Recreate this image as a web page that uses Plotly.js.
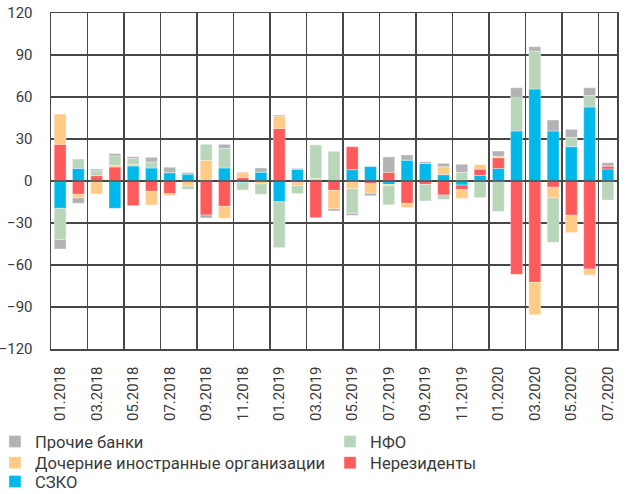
<!DOCTYPE html>
<html>
<head>
<meta charset="utf-8">
<script src="https://cdn.plot.ly/plotly-3.0.1.min.js"></script>
<style>
    html, body { margin: 0; padding: 0; background: #fff; }
    #chart { width: 635px; height: 494px; }
</style>
</head>
<body>
<div id="chart"></div>
<script>
// =============================================
// Stacked monthly flows by counterparty group
// =============================================

const months = [
    '01.2018', '02.2018', '03.2018', '04.2018', '05.2018', '06.2018',
    '07.2018', '08.2018', '09.2018', '10.2018', '11.2018', '12.2018',
    '01.2019', '02.2019', '03.2019', '04.2019', '05.2019', '06.2019',
    '07.2019', '08.2019', '09.2019', '10.2019', '11.2019', '12.2019',
    '01.2020', '02.2020', '03.2020', '04.2020', '05.2020', '06.2020',
    '07.2020'
];

// СЗКО
const szko = [
    -19.5, 9.0, 0, -19.5, 10.7, 9.3, 6.0, 5.0, 0.5, 9.3, -1.2, 6.4,
    -14.8, 8.3, 0, 0, 8.1, 10.5, -2.5, 15.0, 12.6, 4.5, -2.9, 4.0,
    9.0, 35.7, 65.7, 35.7, 24.5, 52.8, 8.6
];

// Нерезиденты
const nonResidents = [
    26.2, -9.5, 3.8, 10.0, -17.6, -7.4, -9.0, 0, -24.3, -18.1, 2.4, 0,
    37.6, -1.2, -26.2, -6.7, 16.4, -1.9, 6.2, -16.0, -2.4, -10.0, -3.3, 4.5,
    7.6, -66.7, -72.4, -4.5, -24.5, -62.9, 2.1
];

// Дочерние иностранные организации
const subsidiaries = [
    21.6, -2.6, -9.3, 1.2, 1.2, -9.8, -1.4, -3.5, 14.3, -8.6, 3.6, -2.1,
    8.8, -2.1, 1.9, -13.3, -5.5, -6.9, -1.0, -2.9, 0, 5.7, -6.2, 3.3,
    1.0, -0.5, -23.1, -7.6, -12.4, -4.3, 0
];

// НФО
const nfo = [
    -22.4, 6.7, 3.5, 6.7, 4.3, 4.3, 0, -2.5, 11.4, 14.0, -5.2, -7.4,
    -32.8, -5.7, 24.0, 21.2, -17.6, 0, -13.5, 0, -11.9, -3.1, 6.2, -11.9,
    -21.7, 24.0, 27.1, -31.7, 6.7, 8.3, -13.6
];

// Прочие банки
const otherBanks = [
    -6.7, -3.8, 1.2, 1.7, 1.2, 3.3, 3.8, 1.0, -2.1, 2.9, 0.5, 2.9,
    0.7, 0.7, 0, -1.4, -1.4, -1.7, 11.0, 3.6, 1.2, 2.4, 5.7, 0,
    3.8, 6.9, 3.1, 7.9, 5.7, 5.5, 2.4
];

const FONT = 'Roboto, "Open Sans", sans-serif';
const TEXT_COLOR = '#3a3a3a';
const GRID_COLOR = '#474747';

// stacking order from zero outward; each entry gets its own legend box
const series = [
    { name: 'СЗКО', values: szko, color: '#00B9EB', legend: 'legend5' },
    { name: 'Нерезиденты', values: nonResidents, color: '#FF5A5C', legend: 'legend4' },
    { name: 'Дочерние иностранные организации', values: subsidiaries, color: '#FFCB87', legend: 'legend3' },
    { name: 'НФО', values: nfo, color: '#B9D5BA', legend: 'legend2' },
    { name: 'Прочие банки', values: otherBanks, color: '#B3B3B5', legend: 'legend' }
];

const traces = series.map(s => ({
    type: 'bar',
    name: s.name,
    x: months,
    y: s.values,
    legend: s.legend,
    marker: { color: s.color, line: { color: 'rgba(255,255,255,0.7)', width: 0.5 } },
    hovertemplate: '%{x}<br>' + s.name + ': %{y:.1f}<extra></extra>'
}));

// legend boxes laid out as two columns under the chart
const legendBase = {
    orientation: 'v',
    xanchor: 'left',
    yanchor: 'middle',
    bgcolor: 'rgba(0,0,0,0)',
    font: { family: FONT, size: 16.6, color: TEXT_COLOR },
    itemclick: false,
    itemdoubleclick: false
};
const COL1 = -0.099, COL2 = 0.493;
const ROW1 = -0.276, ROW2 = -0.339, ROW3 = -0.395;

const layout = {
    width: 635,
    height: 494,
    margin: { l: 51, r: 18, t: 13, b: 145, autoexpand: false },
    paper_bgcolor: '#fff',
    plot_bgcolor: '#fff',
    barmode: 'relative',
    bargap: 0.35,
    font: { family: FONT, size: 15, color: TEXT_COLOR },
    showlegend: true,
    xaxis: {
        type: 'category',
        tickmode: 'linear',
        tick0: 0,
        dtick: 2,
        tickson: 'boundaries',
        tickangle: -90,
        ticks: '',
        ticklabelstandoff: 10,
        showgrid: true,
        gridcolor: GRID_COLOR,
        gridwidth: 1.5,
        showline: true,
        mirror: true,
        linecolor: GRID_COLOR,
        linewidth: 1.5,
        tickfont: { family: FONT, size: 15, color: TEXT_COLOR },
        fixedrange: true
    },
    yaxis: {
        range: [-120, 120],
        tickmode: 'linear',
        tick0: -120,
        dtick: 30,
        ticks: '',
        ticklabelstandoff: 14,
        showgrid: true,
        gridcolor: GRID_COLOR,
        gridwidth: 1.5,
        zeroline: false,
        showline: true,
        mirror: true,
        linecolor: GRID_COLOR,
        linewidth: 1.5,
        tickfont: { family: FONT, size: 15, color: TEXT_COLOR },
        fixedrange: true
    },
    // zero line sits on top of the bars
    shapes: [{
        type: 'line',
        xref: 'paper', x0: 0, x1: 1,
        yref: 'y', y0: 0, y1: 0,
        line: { color: GRID_COLOR, width: 1.5 },
        layer: 'above'
    }],
    legend:  Object.assign({}, legendBase, { x: COL1, y: ROW1 }),
    legend2: Object.assign({}, legendBase, { x: COL2, y: ROW1 }),
    legend3: Object.assign({}, legendBase, { x: COL1, y: ROW2 }),
    legend4: Object.assign({}, legendBase, { x: COL2, y: ROW2 }),
    legend5: Object.assign({}, legendBase, { x: COL1, y: ROW3 })
};

Plotly.newPlot('chart', traces, layout, { displayModeBar: false, staticPlot: true });
</script>
</body>
</html>
